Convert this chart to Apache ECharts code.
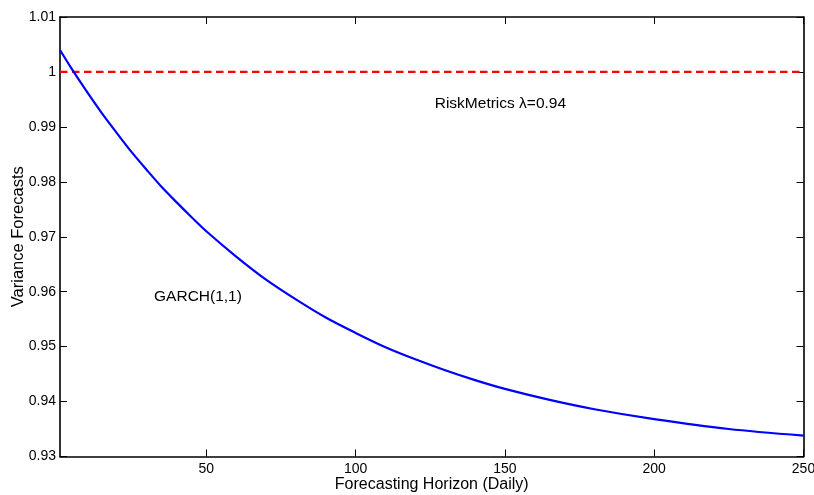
<!DOCTYPE html>
<html>
<head>
<meta charset="utf-8">
<script src="https://cdn.jsdelivr.net/npm/echarts@6/dist/echarts.min.js"></script>
<style>html,body{margin:0;padding:0;background:#fff}#c{width:814px;height:495px}</style>
</head>
<body>
<div id="c"></div>
<script>
// Forecasting horizon (days) and GARCH(1,1) variance forecasts
const horizon = [1, 5, 10, 15, 20, 25, 30, 35, 40, 45, 50, 60, 70, 80, 90, 100, 110, 120, 130, 140, 150, 165, 180, 200, 225, 250];
const garch   = [1.0040, 1.0005, 0.9964, 0.9925, 0.9889, 0.9854, 0.9822, 0.9791, 0.9763, 0.9736, 0.9710, 0.9664, 0.9622, 0.9586, 0.9553, 0.9525, 0.9499, 0.9477, 0.9457, 0.9439, 0.9423, 0.9403, 0.9386, 0.9368, 0.9350, 0.9338];
// RiskMetrics (lambda = 0.94) flat forecast
const riskX = [1, 250];
const riskY = [1, 1];
// Axis ticks
const xTicks = [50, 100, 150, 200, 250];
const yTicks = [0.93, 0.94, 0.95, 0.96, 0.97, 0.98, 0.99, 1, 1.01];
// Annotation texts and anchors (data coordinates)
const labelRisk = { text: 'RiskMetrics \u03bb=0.94', at: [126.5, 0.9942] };
const labelGarch = { text: 'GARCH(1,1)', at: [32.5, 0.9591] };

const FONT = 'Liberation Sans, Arial, Helvetica, sans-serif';
const axisBase = {
  axisLine: { show: true, onZero: false, lineStyle: { color: '#000', width: 1.6 } },
  axisTick: { show: true, inside: true, length: 7, lineStyle: { color: '#000', width: 1 } },
  splitLine: { show: false }
};

const chart = echarts.init(document.getElementById('c'), null, { renderer: 'canvas' });
chart.setOption({
  animation: false,
  backgroundColor: '#fff',
  textStyle: { fontFamily: FONT },
  grid: { left: 60, right: 10.5, top: 17, bottom: 38.5, containLabel: false, outerBoundsMode: 'none' },
  xAxis: [
    Object.assign({}, axisBase, {
      type: 'value', position: 'bottom', min: 1, max: 250,
      name: 'Forecasting Horizon (Daily)', nameLocation: 'middle', nameGap: 20, nameMoveOverlap: false,
      nameTextStyle: { fontSize: 16, color: '#000', fontFamily: FONT },
      axisTick: Object.assign({}, axisBase.axisTick, { customValues: xTicks }),
      axisLabel: { customValues: xTicks, fontSize: 14, color: '#000', margin: 6, fontFamily: FONT }
    }),
    Object.assign({}, axisBase, {
      type: 'value', position: 'top', min: 1, max: 250,
      axisTick: Object.assign({}, axisBase.axisTick, { customValues: xTicks }),
      axisLabel: { show: false }
    })
  ],
  yAxis: [
    Object.assign({}, axisBase, {
      type: 'value', position: 'left', min: 0.93, max: 1.01, interval: 0.01,
      name: 'Variance Forecasts', nameLocation: 'middle', nameGap: 33, nameMoveOverlap: false,
      nameTextStyle: { fontSize: 16.5, color: '#000', fontFamily: FONT },
      axisTick: Object.assign({}, axisBase.axisTick, { customValues: yTicks }),
      axisLabel: {
        customValues: yTicks, fontSize: 14, color: '#000', margin: 4, fontFamily: FONT,
        formatter: v => String(parseFloat(Number(v).toFixed(2)))
      }
    }),
    Object.assign({}, axisBase, {
      type: 'value', position: 'right', min: 0.93, max: 1.01, interval: 0.01,
      axisTick: Object.assign({}, axisBase.axisTick, { customValues: yTicks }),
      axisLabel: { show: false }
    })
  ],
  series: [
    {
      type: 'line', name: 'RiskMetrics', xAxisIndex: 0, yAxisIndex: 0,
      data: riskX.map((x, i) => [x, riskY[i]]),
      showSymbol: false, symbol: 'none',
      lineStyle: { color: '#ff0000', width: 2.2, type: [7.5, 4.5] },
      markPoint: {
        symbol: 'circle', symbolSize: 0,
        data: [{ coord: labelRisk.at, value: labelRisk.text }],
        label: { show: true, position: 'right', distance: 0, formatter: labelRisk.text, color: '#000', fontSize: 15.5, fontFamily: FONT }
      }
    },
    {
      type: 'line', name: 'GARCH(1,1)', xAxisIndex: 0, yAxisIndex: 0,
      data: horizon.map((x, i) => [x, garch[i]]),
      smooth: 0.3, showSymbol: false, symbol: 'none',
      lineStyle: { color: '#0000ff', width: 2.2 },
      markPoint: {
        symbol: 'circle', symbolSize: 0,
        data: [{ coord: labelGarch.at, value: labelGarch.text }],
        label: { show: true, position: 'right', distance: 0, formatter: labelGarch.text, color: '#000', fontSize: 15.5, fontFamily: FONT }
      }
    }
  ]
});
</script>
</body>
</html>
